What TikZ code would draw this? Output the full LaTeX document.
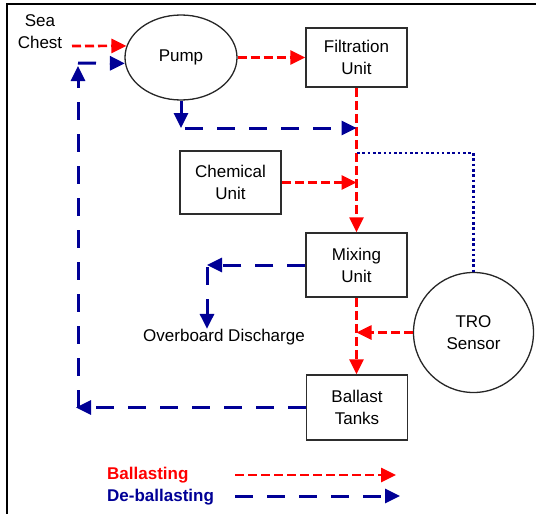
\documentclass[tikz,border=0pt]{standalone}
\usepackage{fontspec}
\setmainfont{Liberation Sans}
\usetikzlibrary{arrows.meta,shapes.geometric}
\definecolor{balred}{RGB}{255,0,0}
\definecolor{debblue}{RGB}{0,0,150}
\definecolor{boxgray}{RGB}{45,45,45}
\begin{document}
\begin{tikzpicture}[x=1pt,y=-1pt,
  every node/.style={font=\fontsize{17}{22}\selectfont, align=center, inner sep=0pt},
  unitbox/.style={draw=boxgray, line width=1.5pt, minimum width=101pt},
  roundpart/.style={draw=black!85, line width=1.3pt},
  redflow/.style={color=balred, line width=2.6pt, dash pattern=on 9pt off 4pt,
    -{Triangle[length=15pt,width=14pt]}},
  blueflow/.style={color=debblue, line width=3pt, dash pattern=on 18pt off 14pt,
    -{Triangle[length=15pt,width=14pt]}},
  sensorline/.style={color=debblue, line width=2.7pt, dash pattern=on 2.6pt off 2.7pt}]
\useasboundingbox (0,0) rectangle (536,514);
% frame
\draw[line width=2.5pt] (7,514) -- (7,4) -- (536,4);
% nodes
\node[ellipse, roundpart, minimum width=112pt, minimum height=85pt] (pump) at (181,57.5) {Pump};
\node[unitbox, minimum height=59pt] (filt) at (356.5,57.5) {Filtration\\Unit};
\node[unitbox, minimum height=63pt] (chem) at (230.5,182.5) {Chemical\\Unit};
\node[unitbox, minimum height=64pt] (mix) at (356.5,265) {Mixing\\Unit};
\node[unitbox, minimum height=65pt] (tanks) at (357,407.5) {Ballast\\Tanks};
\node[circle, roundpart, minimum size=120pt] (tro) at (473.5,332.5) {TRO\\Sensor};
\node (sea) at (40,32) {Sea\\Chest};
\node (over) at (224,337) {Overboard Discharge};
\node[anchor=west, text=balred, font=\fontsize{17}{22}\selectfont\bfseries] (legr) at (107,475) {Ballasting};
\node[anchor=west, text=debblue, font=\fontsize{17}{22}\selectfont\bfseries] (legb) at (107,497) {De-ballasting};
% coordinates
\coordinate (scs) at (72,46);
\coordinate (pbend) at (181,128);
\coordinate (pbstart) at (185,128);
\coordinate (jd) at (357,153);
\coordinate (obc) at (207,265);
\coordinate (obs) at (207,267);
\coordinate (blc) at (76,407.5);
\coordinate (vstart) at (78,407.5);
\coordinate (vtop) at (78,66);
\coordinate (hstart) at (78,63);
\coordinate (lr1) at (235,475);
\coordinate (lr2) at (396,475);
\coordinate (lb1) at (235,496);
\coordinate (lb2) at (400,496);
% ballasting (red)
\draw[redflow] (scs) -- (pump.168);
\draw[redflow] (pump.east) -- (filt.west);
\draw[redflow] (filt.south) -- (mix.north);
\draw[redflow] (chem.east) -- (chem.east -| filt.south);
\draw[redflow] (mix.south) -- (mix.south |- tanks.north);
\draw[redflow] (tro.west) -- (tro.west -| mix.south);
% de-ballasting (blue)
\draw[blueflow] (pump.south) -- (pbend);
\draw[blueflow] (pbstart) -- (pbstart -| filt.south);
\draw[blueflow] (mix.west) -- (obc);
\draw[blueflow] (obs) -- (obs |- over.north);
\draw[blueflow] (tanks.west) -- (blc);
\draw[blueflow] (vstart) -- (vtop);
\draw[blueflow] (hstart) -- (pump.186);
% TRO signal
\draw[sensorline] (jd) -- (jd -| tro.north) -- (tro.north);
% legend
\draw[redflow] (lr1) -- (lr2);
\draw[blueflow] (lb1) -- (lb2);
\end{tikzpicture}
\end{document}
